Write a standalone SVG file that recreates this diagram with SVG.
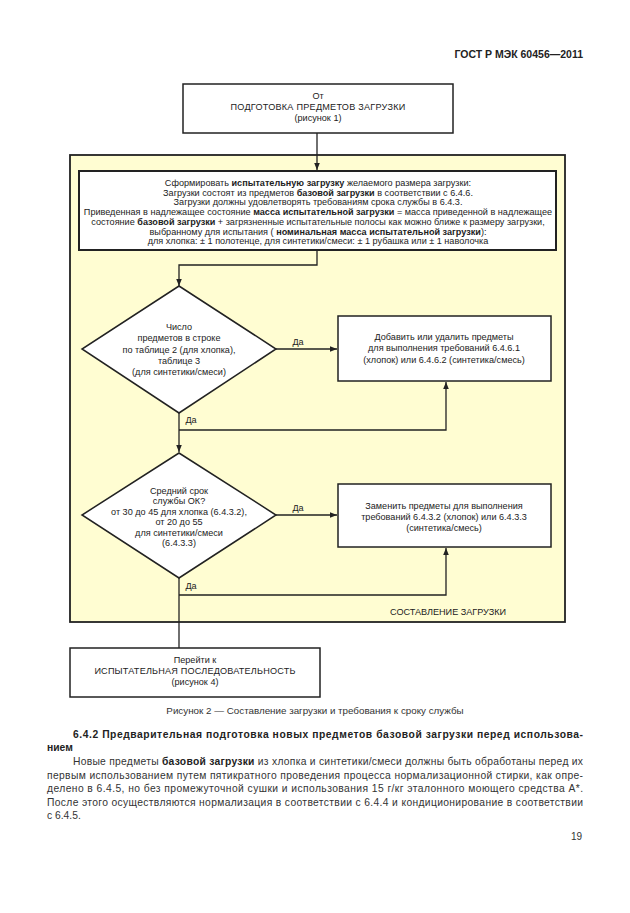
<svg xmlns="http://www.w3.org/2000/svg" width="630" height="913" viewBox="0 0 630 913">
<defs>
<marker id="ah" viewBox="0 0 10 10" refX="10" refY="5" markerWidth="7" markerHeight="7" orient="auto" markerUnits="userSpaceOnUse">
<path d="M0,1 L10,5 L0,9 Z" fill="#222"/>
</marker>
<style>
.t{font-family:"Liberation Sans",Arial,sans-serif;font-size:9.1px;fill:#222;text-anchor:middle}
.b{font-weight:bold}
.box{fill:#fff;stroke:#222;stroke-width:1.5}
.ln{fill:none;stroke:#222;stroke-width:1.3}
.body{font-family:"Liberation Sans",Arial,sans-serif;font-size:10.3px;fill:#333}
</style>
</defs>
<rect width="630" height="913" fill="#fff"/>
<text x="583" y="58" class="body b" style="font-size:10.5px;text-anchor:end;fill:#222">ГОСТ Р МЭК 60456—2011</text>

<g id="container">
<rect x="70" y="155" width="495" height="467" fill="#FFFDD2" stroke="#222" stroke-width="1.8"/>
<text x="448" y="615" class="t">СОСТАВЛЕНИЕ ЗАГРУЗКИ</text>
</g>

<g id="connectors">
<path class="ln" d="M317,133 V170" marker-end="url(#ah)"/>
<path class="ln" d="M317,250 V265 H179 V286" marker-end="url(#ah)"/>
<path class="ln" d="M276,349 H337" marker-end="url(#ah)"/>
<path class="ln" d="M179,413 V452" marker-end="url(#ah)"/>
<path class="ln" d="M179,430 H446 V382" marker-end="url(#ah)"/>
<path class="ln" d="M276,515 H337" marker-end="url(#ah)"/>
<path class="ln" d="M179,578 V648"/>
<path class="ln" d="M179,595 H446 V548" marker-end="url(#ah)"/>
<text x="298" y="345" class="t">Да</text>
<text x="191" y="423" class="t">Да</text>
<text x="298" y="511" class="t">Да</text>
<text x="191" y="589" class="t">Да</text>
</g>

<g id="start">
<rect class="box" x="183" y="84" width="270" height="49"/>
<text x="318" y="99" class="t">От</text>
<text x="318" y="110" class="t" style="letter-spacing:0.25px">ПОДГОТОВКА ПРЕДМЕТОВ ЗАГРУЗКИ</text>
<text x="318" y="121" class="t">(рисунок 1)</text>
</g>

<g id="form">
<rect x="79" y="171" width="477" height="79" fill="#fff" stroke="#222" stroke-width="2"/>
<text x="318" y="186" class="t">Сформировать <tspan class="b">испытательную загрузку</tspan> желаемого размера загрузки:</text>
<text x="318" y="195.7" class="t">Загрузки состоят из предметов <tspan class="b">базовой загрузки</tspan> в соответствии с 6.4.6.</text>
<text x="318" y="205.4" class="t">Загрузки должны удовлетворять требованиям срока службы в 6.4.3.</text>
<text x="318" y="215.1" class="t">Приведенная в надлежащее состояние <tspan class="b">масса испытательной загрузки</tspan> = масса приведенной в надлежащее</text>
<text x="318" y="224.8" class="t">состояние <tspan class="b">базовой загрузки</tspan> + загрязненные испытательные полосы как можно ближе к размеру загрузки,</text>
<text x="318" y="234.5" class="t">выбранному для испытания ( <tspan class="b">номинальная масса испытательной загрузки</tspan>):</text>
<text x="318" y="244.2" class="t">для хлопка: ± 1 полотенце, для синтетики/смеси: ± 1 рубашка или ± 1 наволочка</text>
</g>

<g id="decision1">
<polygon class="box" points="179,286 276,349 179,413 82,349"/>
<text x="179" y="329.5" class="t">Число</text>
<text x="179" y="341" class="t">предметов в строке</text>
<text x="179" y="352.5" class="t">по таблице 2 (для хлопка),</text>
<text x="179" y="363.5" class="t">таблице 3</text>
<text x="179" y="374.5" class="t">(для синтетики/смеси)</text>
</g>

<g id="adjust">
<rect class="box" x="338" y="316" width="213" height="65"/>
<text x="444" y="339.5" class="t">Добавить или удалить предметы</text>
<text x="444" y="351" class="t">для выполнения требований 6.4.6.1</text>
<text x="444" y="362.5" class="t">(хлопок) или 6.4.6.2 (синтетика/смесь)</text>
</g>

<g id="decision2">
<polygon class="box" points="179,453 276,515 179,578 82,515"/>
<text x="179" y="493.5" class="t">Средний срок</text>
<text x="179" y="504" class="t">службы ОК?</text>
<text x="179" y="514.5" class="t">от 30 до 45 для хлопка (6.4.3.2),</text>
<text x="179" y="525" class="t">от 20 до 55</text>
<text x="179" y="535.5" class="t">для синтетики/смеси</text>
<text x="179" y="546" class="t">(6.4.3.3)</text>
</g>

<g id="replace">
<rect class="box" x="338" y="484" width="213" height="63"/>
<text x="444" y="508.5" class="t">Заменить предметы для выполнения</text>
<text x="444" y="519.5" class="t">требований 6.4.3.2 (хлопок) или 6.4.3.3</text>
<text x="444" y="530.5" class="t">(синтетика/смесь)</text>
</g>

<g id="end">
<rect class="box" x="70" y="648" width="250" height="49"/>
<text x="195" y="663" class="t">Перейти к</text>
<text x="195" y="674" class="t" style="letter-spacing:0.2px">ИСПЫТАТЕЛЬНАЯ ПОСЛЕДОВАТЕЛЬНОСТЬ</text>
<text x="195" y="685" class="t">(рисунок 4)</text>
</g>

<text x="315" y="714" class="t" style="font-size:9.8px;fill:#333">Рисунок 2 — Составление загрузки и требования к сроку службы</text>

<text x="73" y="738" class="body b" style="fill:#222" textLength="510" lengthAdjust="spacing">6.4.2 Предварительная подготовка новых предметов базовой загрузки перед использова-</text>
<text x="47" y="751" class="body b" style="fill:#222">нием</text>
<text x="73" y="765" class="body" textLength="510" lengthAdjust="spacing">Новые предметы <tspan class="b" style="fill:#222">базовой загрузки</tspan> из хлопка и синтетики/смеси должны быть обработаны перед их</text>
<text x="47" y="779" class="body" textLength="536" lengthAdjust="spacing">первым использованием путем пятикратного проведения процесса нормализационной стирки, как опре-</text>
<text x="47" y="792" class="body" textLength="536" lengthAdjust="spacing">делено в 6.4.5, но без промежуточной сушки и использования 15 г/кг эталонного моющего средства А*.</text>
<text x="47" y="806" class="body" textLength="536" lengthAdjust="spacing">После этого осуществляются нормализация в соответствии с 6.4.4 и кондиционирование в соответствии</text>
<text x="47" y="819" class="body">с 6.4.5.</text>
<text x="582" y="840" class="body" style="text-anchor:end;font-size:10px">19</text>
</svg>
